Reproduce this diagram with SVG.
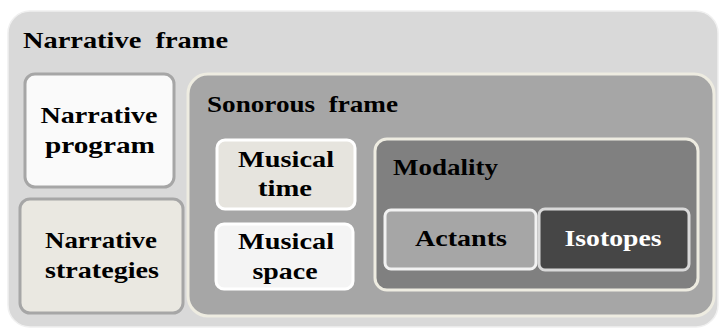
<svg xmlns="http://www.w3.org/2000/svg" width="722" height="332" viewBox="0 0 722 332">
<style>
text{font-weight:700;font-size:24px;fill:#000}
.c{text-anchor:middle}
.w{fill:#fff}
</style>
<rect width="722" height="332" fill="#fff"/>
<g font-family="Liberation Serif, Times New Roman, serif">
<g id="narrative-frame">
<rect x="8" y="11" width="710" height="316" rx="22" fill="#d9d9d9" stroke="#f0f0f0" stroke-width="1.5"/>
<text x="23" y="48" textLength="205" lengthAdjust="spacingAndGlyphs">Narrative&#160; frame</text>
</g>
<g id="narrative-program">
<rect x="25" y="74" width="149" height="113" rx="10" fill="#fafafa" stroke="#a6a6a6" stroke-width="3"/>
<text class="c" x="99" y="123" textLength="117" lengthAdjust="spacingAndGlyphs">Narrative</text>
<text class="c" x="100" y="153" textLength="110" lengthAdjust="spacingAndGlyphs">program</text>
</g>
<g id="narrative-strategies">
<rect x="20" y="199" width="163" height="114" rx="10" fill="#eae8e1" stroke="#a6a6a6" stroke-width="3"/>
<text class="c" x="101" y="248" textLength="112" lengthAdjust="spacingAndGlyphs">Narrative</text>
<text class="c" x="102" y="278" textLength="114" lengthAdjust="spacingAndGlyphs">strategies</text>
</g>
<g id="sonorous-frame">
<rect x="188" y="74" width="526" height="242" rx="20" fill="#a6a6a6" stroke="#eeece1" stroke-width="3"/>
<text x="207" y="112" textLength="191" lengthAdjust="spacingAndGlyphs">Sonorous&#160; frame</text>
</g>
<g id="musical-time">
<rect x="217" y="140" width="138" height="69" rx="8" fill="#e6e4de" stroke="#ffffff" stroke-width="3"/>
<text class="c" x="286" y="167" textLength="96" lengthAdjust="spacingAndGlyphs">Musical</text>
<text class="c" x="285" y="196" textLength="54" lengthAdjust="spacingAndGlyphs">time</text>
</g>
<g id="musical-space">
<rect x="216" y="224" width="137" height="65" rx="8" fill="#f4f4f4" stroke="#ffffff" stroke-width="3"/>
<text class="c" x="286" y="249" textLength="96" lengthAdjust="spacingAndGlyphs">Musical</text>
<text class="c" x="285" y="279" textLength="65" lengthAdjust="spacingAndGlyphs">space</text>
</g>
<g id="modality">
<rect x="375" y="139" width="323" height="151" rx="12" fill="#808080" stroke="#eeece1" stroke-width="3"/>
<text x="393" y="175" textLength="105" lengthAdjust="spacingAndGlyphs">Modality</text>
</g>
<g id="actants">
<rect x="385" y="210" width="151" height="59" rx="6" fill="#a6a6a6" stroke="#f2f2f2" stroke-width="3"/>
<text class="c" x="461" y="246" textLength="92" lengthAdjust="spacingAndGlyphs">Actants</text>
</g>
<g id="isotopes">
<rect x="539" y="209" width="150" height="61" rx="6" fill="#464646" stroke="#d9d9d9" stroke-width="3"/>
<text class="c w" x="613" y="246" textLength="97" lengthAdjust="spacingAndGlyphs">Isotopes</text>
</g>
</g>
<g id="connectors"/>
</svg>
